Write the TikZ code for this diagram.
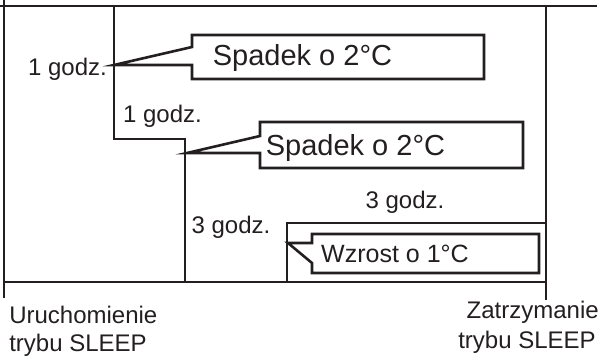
\documentclass[tikz,border=0pt]{standalone}
\usepackage{fontspec}
\setmainfont{Liberation Sans}
\definecolor{ink}{HTML}{231F20}
\begin{document}
\begin{tikzpicture}[x=1pt,y=-1pt,line width=2.6pt,draw=ink,text=ink,line join=miter,
  lbl/.style={inner sep=0pt,font=\fontsize{24}{28}\selectfont},
  big/.style={inner sep=0pt,font=\fontsize{29}{34}\selectfont},
  mid/.style={inner sep=0pt,font=\fontsize{25}{30}\selectfont}]
\useasboundingbox (0,0) rectangle (605,356);
% frame
\coordinate (tl) at (0,6);
\coordinate (tr) at (597,6);
\coordinate (lt) at (4,0);
\coordinate (lb) at (4,298);
\coordinate (rt) at (546,6);
\coordinate (rb) at (546,300);
\coordinate (bl) at (4,282);
\coordinate (br) at (546,282);
\draw (tl) -- (tr);
\draw (lt) -- (lb);
\draw (rt) -- (rb);
\draw (bl) -- (br);
% steps
\draw (114,6) -- (114,139) -- (185,139) -- (185,282);
\draw (287,282) -- (287,223) -- (546,223);
% callouts
\draw (192,65) -- (114,65) -- (192,47) -- (192,35) -- (484,35) -- (484,79) -- (192,79) -- cycle;
\draw (260,153) -- (187,153) -- (260,136) -- (260,122) -- (523,122) -- (523,168) -- (260,168) -- cycle;
\draw (312,243) -- (288,243) -- (312,263) -- (312,273) -- (539,273) -- (539,234) -- (312,234) -- cycle;
% texts
\node[big,anchor=base] (s1) at (302.5,65.5) {Spadek o 2°C};
\node[big,anchor=base] (s2) at (355.5,155) {Spadek o 2°C};
\node[mid,anchor=base] (w) at (395,262) {Wzrost o 1°C};
\node[lbl,anchor=base] (g1) at (67.5,75) {1 godz.};
\node[lbl,anchor=base] (g2) at (162.5,122) {1 godz.};
\node[lbl,anchor=base] (g3) at (231,233) {3 godz.};
\node[lbl,anchor=base] (g4) at (405,208) {3 godz.};
\node[lbl,anchor=base west] (u1) at (8,323) {Uruchomienie};
\node[lbl,anchor=base west] (u2) at (8,351) {trybu SLEEP};
\node[lbl,anchor=base east] (z1) at (600,318) {Zatrzymanie};
\node[lbl,anchor=base east] (z2) at (597,348) {trybu SLEEP};
\end{tikzpicture}
\end{document}
